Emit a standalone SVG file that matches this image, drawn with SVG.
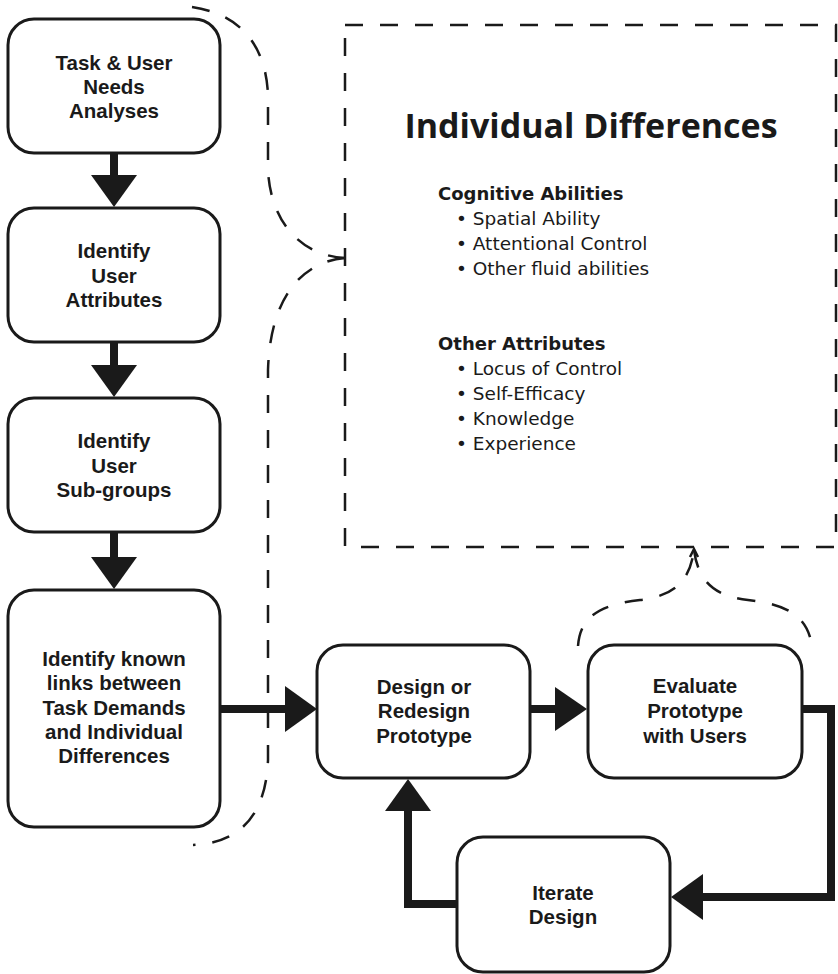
<svg xmlns="http://www.w3.org/2000/svg" width="838" height="974" viewBox="0 0 838 974">
  <defs>
    <style>
      .box { fill: #ffffff; stroke: #1a1a1a; stroke-width: 3; }
      .lbl { font-family: "Liberation Sans", Arial, sans-serif; font-weight: 700; font-size: 20.5px; fill: #1a1a1a; text-anchor: middle; }
      .shaft { fill: none; stroke: #1a1a1a; stroke-width: 8; stroke-linejoin: miter; }
      .head { fill: #1a1a1a; }
      .dash { fill: none; stroke: #1a1a1a; stroke-width: 2.5; stroke-dasharray: 18 17; }
      .title { font-family: "Open Sans", "Liberation Sans", sans-serif; font-weight: 700; font-size: 34px; fill: #1a1a1a; }
      .sub { font-family: "DejaVu Sans", "Open Sans", sans-serif; font-weight: 700; font-size: 18px; fill: #1a1a1a; }
      .item { font-family: "DejaVu Sans", "Open Sans", sans-serif; font-weight: 400; font-size: 18.5px; fill: #1a1a1a; }
    </style>
  </defs>

  <rect width="838" height="974" fill="#ffffff"/>

  <!-- Individual differences panel -->
  <g id="individual-differences">
    <rect class="dash" x="345" y="25" width="491" height="522"/>
    <text class="title" x="591" y="138" text-anchor="middle">Individual Differences</text>
    <text class="sub" x="438" y="200">Cognitive Abilities</text>
    <text class="item" x="456" y="225">• Spatial Ability</text>
    <text class="item" x="456" y="250">• Attentional Control</text>
    <text class="item" x="456" y="275">• Other fluid abilities</text>
    <text class="sub" x="438" y="350">Other Attributes</text>
    <text class="item" x="456" y="375">• Locus of Control</text>
    <text class="item" x="456" y="400">• Self-Efficacy</text>
    <text class="item" x="456" y="425">• Knowledge</text>
    <text class="item" x="456" y="450">• Experience</text>
  </g>

  <!-- Connectors -->
  <g id="connectors">
    <!-- vertical flow on the left -->
    <line class="shaft" x1="114" y1="153" x2="114" y2="176"/>
    <polygon class="head" points="91,175 137,175 114,207"/>
    <line class="shaft" x1="114" y1="342" x2="114" y2="366"/>
    <polygon class="head" points="91,365 137,365 114,397"/>
    <line class="shaft" x1="114" y1="532" x2="114" y2="558"/>
    <polygon class="head" points="91,557 137,557 114,589"/>
    <!-- links -> design -->
    <line class="shaft" x1="220" y1="709" x2="286" y2="709"/>
    <polygon class="head" points="285,686 285,732 317,709"/>
    <!-- design -> evaluate -->
    <line class="shaft" x1="530" y1="709" x2="556" y2="709"/>
    <polygon class="head" points="555,687 555,731 587,709"/>
    <!-- evaluate -> iterate -->
    <polyline class="shaft" points="802,709 831,709 831,897 702,897"/>
    <polygon class="head" points="703,874 703,920 671,897"/>
    <!-- iterate -> design -->
    <polyline class="shaft" points="457,904 408,904 408,810"/>
    <polygon class="head" points="385,811 431,811 408,779"/>

    <!-- brace from the analysis steps to the panel -->
    <path class="dash" d="M192,7 C240,14 266,45 268,95 L268,170 C270,215 295,255 345,258"/>
    <path class="dash" d="M345,258 C300,262 270,300 268,370 L268,760 C266,815 240,843 193,845"/>
    <!-- brace from the evaluation step up to the panel -->
    <path class="dash" d="M578,646 C580,620 595,605 640,600 C675,596 690,580 694,550"/>
    <path class="dash" d="M694,550 C698,580 713,596 748,600 C793,605 808,620 812,646"/>
    <polyline points="690,557 694,549 698,557" fill="none" stroke="#1a1a1a" stroke-width="2.5"/>
  </g>

  <!-- Process steps -->
  <g id="task-analysis">
    <rect class="box" x="8" y="19" width="212" height="134" rx="26"/>
    <text class="lbl" x="114" y="70">Task &amp; User</text>
    <text class="lbl" x="114" y="94">Needs</text>
    <text class="lbl" x="114" y="118">Analyses</text>
  </g>
  <g id="user-attributes">
    <rect class="box" x="8" y="208" width="212" height="134" rx="26"/>
    <text class="lbl" x="114" y="258">Identify</text>
    <text class="lbl" x="114" y="283">User</text>
    <text class="lbl" x="114" y="307">Attributes</text>
  </g>
  <g id="user-subgroups">
    <rect class="box" x="8" y="398" width="212" height="134" rx="26"/>
    <text class="lbl" x="114" y="448">Identify</text>
    <text class="lbl" x="114" y="473">User</text>
    <text class="lbl" x="114" y="497">Sub-groups</text>
  </g>
  <g id="known-links">
    <rect class="box" x="8" y="590" width="212" height="237" rx="26"/>
    <text class="lbl" x="114" y="666">Identify known</text>
    <text class="lbl" x="114" y="690">links between</text>
    <text class="lbl" x="114" y="715">Task Demands</text>
    <text class="lbl" x="114" y="739">and Individual</text>
    <text class="lbl" x="114" y="763">Differences</text>
  </g>
  <g id="design-prototype">
    <rect class="box" x="317" y="645" width="213" height="133" rx="26"/>
    <text class="lbl" x="424" y="694">Design or</text>
    <text class="lbl" x="424" y="718">Redesign</text>
    <text class="lbl" x="424" y="743">Prototype</text>
  </g>
  <g id="evaluate-prototype">
    <rect class="box" x="588" y="645" width="214" height="133" rx="26"/>
    <text class="lbl" x="695" y="693">Evaluate</text>
    <text class="lbl" x="695" y="718">Prototype</text>
    <text class="lbl" x="695" y="743">with Users</text>
  </g>
  <g id="iterate-design">
    <rect class="box" x="457" y="837" width="213" height="135" rx="26"/>
    <text class="lbl" x="563" y="900">Iterate</text>
    <text class="lbl" x="563" y="924">Design</text>
  </g>
</svg>
